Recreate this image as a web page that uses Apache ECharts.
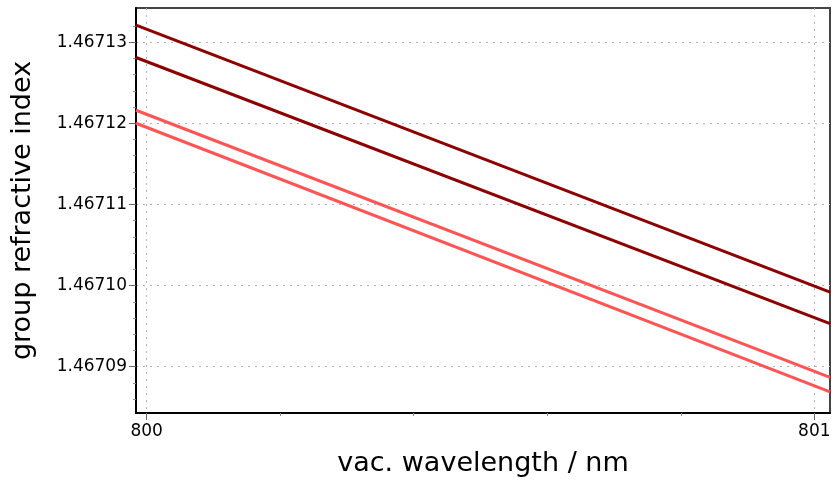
<!DOCTYPE html>
<html>
<head>
<meta charset="utf-8">
<script src="https://cdn.jsdelivr.net/npm/echarts@6/dist/echarts.min.js"></script>
<style>
  html, body { margin: 0; padding: 0; background: #fff; }
  #chart { width: 834px; height: 482px; }
</style>
</head>
<body>
<div id="chart"></div>
<script>
// axis ranges and ticks
const xRange = [799.984, 801.0235];
const yRange = [1.4670843, 1.4671342];
const xMajorTicks = [800, 801];
const xMinorTicks = [800.2, 800.4, 800.6, 800.8];
const yMajorTicks = [1.46709, 1.4671, 1.46711, 1.46712, 1.46713];
const yMinorTicks = [1.467086, 1.467088, 1.467092, 1.467094, 1.467096, 1.467098,
  1.467102, 1.467104, 1.467106, 1.467108, 1.467112, 1.467114, 1.467116, 1.467118,
  1.467122, 1.467124, 1.467126, 1.467128, 1.467132];

// each curve is a straight line across the shown range
const wavelength = [799.984, 801.0235];
const darkUpper = [1.4671321, 1.4670992];
const darkLower = [1.4671281, 1.4670953];
const lightUpper = [1.4671216, 1.4670887];
const lightLower = [1.4671200, 1.4670869];

const FONT = "DejaVu Sans";
const chart = echarts.init(document.getElementById("chart"));

const toPairs = (ys) => wavelength.map((x, i) => [x, ys[i]]);
const line = (ys, color) => ({
  type: "line",
  data: toPairs(ys),
  symbol: "none",
  lineStyle: { color: color, width: 3 },
  xAxisIndex: 0,
  yAxisIndex: 0,
  silent: true,
});

const grid = { left: 136, right: 4, top: 8, bottom: 69, show: true, borderColor: "#444", borderWidth: 2 };
const dash = { color: "#b0b0b0", type: [2, 5], width: 1 };

const option = {
  animation: false,
  backgroundColor: "#fff",
  grid: grid,
  xAxis: [
    {
      type: "value",
      min: xRange[0],
      max: xRange[1],
      position: "bottom",
      name: "vac. wavelength / nm",
      nameLocation: "middle",
      nameGap: 37,
      nameTextStyle: { fontFamily: FONT, fontSize: 27, color: "#000" },
      axisLine: { lineStyle: { color: "#000", width: 2 } },
      axisTick: { customValues: xMajorTicks, length: 7, lineStyle: { color: "#666" } },
      axisLabel: {
        customValues: xMajorTicks,
        margin: 10,
        fontFamily: FONT,
        fontSize: 17,
        color: "#000",
        formatter: (v) => String(Math.round(v)),
      },
      splitLine: { show: true, lineStyle: dash },
    },
    {
      type: "value",
      min: xRange[0],
      max: xRange[1],
      position: "bottom",
      axisLine: { show: false },
      axisTick: { customValues: xMinorTicks, length: 3, lineStyle: { color: "#888" } },
      axisLabel: { show: false },
      splitLine: { show: false },
    },
  ],
  yAxis: [
    {
      type: "value",
      min: yRange[0],
      max: yRange[1],
      position: "left",
      name: "group refractive index",
      nameLocation: "middle",
      nameGap: 100,
      nameTextStyle: { fontFamily: FONT, fontSize: 27, color: "#000" },
      axisLine: { show: true, lineStyle: { color: "#000", width: 2 } },
      axisTick: { show: true, customValues: yMajorTicks, length: 7, lineStyle: { color: "#666" } },
      axisLabel: {
        customValues: yMajorTicks,
        margin: 9,
        fontFamily: FONT,
        fontSize: 17,
        color: "#000",
        formatter: (v) => v.toFixed(5),
      },
      splitLine: { show: true, lineStyle: dash },
    },
    {
      type: "value",
      min: yRange[0],
      max: yRange[1],
      position: "left",
      axisLine: { show: false },
      axisTick: { show: true, customValues: yMinorTicks, length: 3, lineStyle: { color: "#888" } },
      axisLabel: { show: false },
      splitLine: { show: false },
    },
  ],
  series: [
    line(darkUpper, "#8b0000"),
    line(darkLower, "#8b0000"),
    line(lightUpper, "#ff5555"),
    line(lightLower, "#ff5555"),
  ],
};

chart.setOption(option);
</script>
</body>
</html>
